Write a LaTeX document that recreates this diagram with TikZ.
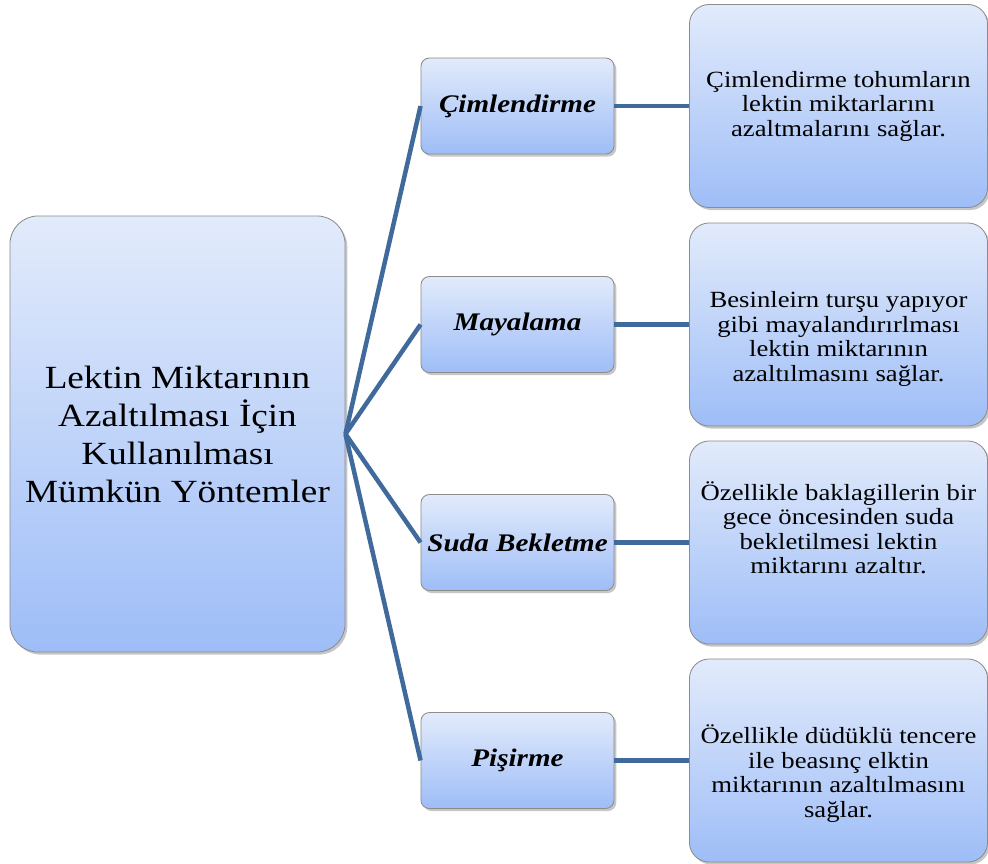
\documentclass[tikz,border=0pt]{standalone}
\usepackage{fontspec}
\setmainfont[FakeStretch=1.15]{Liberation Serif}
\usetikzlibrary{shadows}

\definecolor{boxtop}{RGB}{226,235,251}
\definecolor{boxbot}{RGB}{158,189,247}
\definecolor{boxline}{RGB}{140,140,140}
\definecolor{linkblue}{RGB}{64,106,155}

\begin{document}
\begin{tikzpicture}[
    x=0.025cm, y=-0.025cm,
    box/.style={draw=boxline, line width=0.6pt, top color=boxtop, bottom color=boxbot,
        drop shadow={opacity=0.45, shadow xshift=1.6pt, shadow yshift=-1.8pt},
        align=center, inner sep=2pt},
    rootbox/.style={box, rounded corners=20pt, minimum width=8.375cm, minimum height=10.9cm,
        font=\fontsize{23}{27}\selectfont},
    methodbox/.style={box, rounded corners=6pt, minimum width=4.825cm, minimum height=2.4cm,
        font=\fontsize{18}{20}\selectfont\bfseries\itshape},
    notebox/.style={box, rounded corners=14pt, minimum width=7.45cm, minimum height=5.075cm,
        font=\fontsize{16.5}{17.4}\selectfont},
    link/.style={draw=linkblue, line width=3.2pt}
]
\useasboundingbox (0,0) rectangle (988,863);

\node[rootbox] (root) at (177.5,434)
    {Lektin Miktarının\\Azaltılması İçin\\Kullanılması\\Mümkün Yöntemler};

% Middle column
\node[methodbox] (cim) at (517.5,106)   {Çimlendirme};
\node[methodbox] (may) at (517.5,324.5) {Mayalama};
\node[methodbox] (sud) at (517.5,542.5) {Suda Bekletme};
\node[methodbox] (pis) at (517.5,760.5) {Pişirme};

% Right column (struts move the text off centre as in the original)
\node[notebox] (cimnote) at (838.5,106)
    {Çimlendirme tohumların\\lektin miktarlarını\\azaltmalarını sağlar.};
\node[notebox] (maynote) at (838.5,324.5)
    {\rule{0pt}{32pt}Besinleirn turşu yapıyor\\gibi mayalandırırlması\\lektin miktarının\\azaltılmasını sağlar.};
\node[notebox] (sudnote) at (838.5,542.5)
    {Özellikle baklagillerin bir\\gece öncesinden suda\\bekletilmesi lektin\\miktarını azaltır.\rule[-21pt]{0pt}{0pt}};
\node[notebox] (pisnote) at (838.5,760.5)
    {\rule{0pt}{32pt}Özellikle düdüklü tencere\\ile beasınç elktin\\miktarının azaltılmasını\\sağlar.};

\draw[link] (root.east) -- (cim.west);
\draw[link] (root.east) -- (may.west);
\draw[link] (root.east) -- (sud.west);
\draw[link] (root.east) -- (pis.west);

\draw[link] (cim.east) -- (cimnote.west);
\draw[link] (may.east) -- (maynote.west);
\draw[link] (sud.east) -- (sudnote.west);
\draw[link] (pis.east) -- (pisnote.west);
\end{tikzpicture}
\end{document}
